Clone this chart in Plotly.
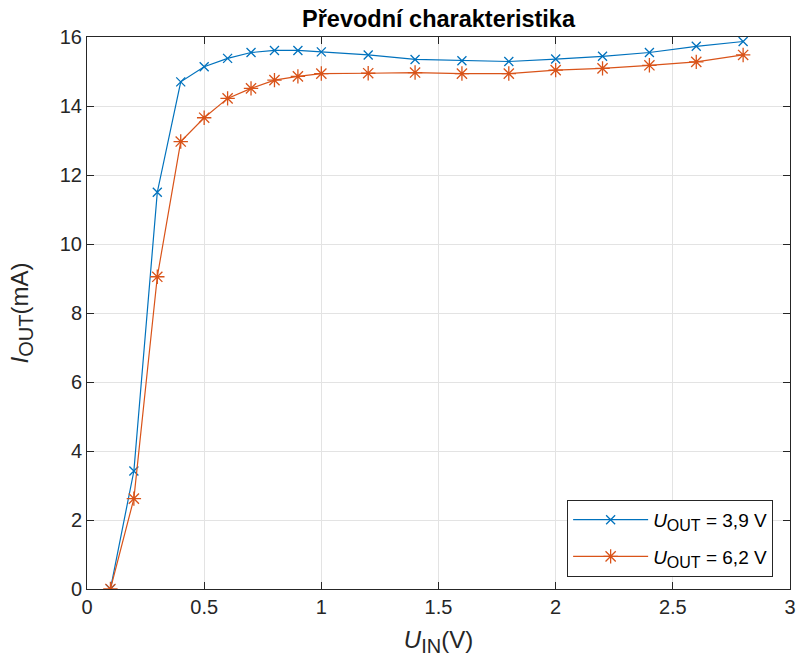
import plotly.graph_objects as go

u_in = [0.1, 0.2, 0.3, 0.4, 0.5, 0.6, 0.7, 0.8, 0.9, 1.0, 1.2, 1.4, 1.6, 1.8, 2.0, 2.2, 2.4, 2.6, 2.8]
i_out_39 = [0.0, 3.42, 11.5, 14.7, 15.14, 15.38, 15.55, 15.61, 15.61, 15.57, 15.48, 15.35, 15.31, 15.29, 15.36, 15.44, 15.55, 15.73, 15.87]
i_out_62 = [0.0, 2.62, 9.05, 12.97, 13.66, 14.22, 14.51, 14.75, 14.86, 14.94, 14.95, 14.97, 14.94, 14.94, 15.04, 15.09, 15.18, 15.28, 15.48]

blue = "#0072BD"
orange = "#D95319"
font = "Liberation Sans, Arial, sans-serif"

fig = go.Figure()
fig.add_trace(go.Scatter(
    x=u_in, y=i_out_39, mode="lines+markers",
    name="<i>U</i><sub><span style='font-size:16px'>OUT</span></sub> = 3,9 V",
    legendgroup="a",
    line=dict(color=blue, width=1.2),
    marker=dict(symbol="x-thin-open", size=9, color=blue, line=dict(color=blue, width=1.3)),
))
fig.add_trace(go.Scatter(
    x=u_in, y=i_out_62, mode="lines+markers",
    name="<i>U</i><sub><span style='font-size:16px'>OUT</span></sub> = 6,2 V",
    legendgroup="b",
    line=dict(color=orange, width=1.2),
    marker=dict(symbol="asterisk-open", size=12, color=orange, line=dict(color=orange, width=1.3)),
))

axis_common = dict(
    showgrid=True, gridcolor="#e3e3e3", gridwidth=1,
    showline=True, linecolor="#262626", linewidth=1,
    mirror="ticks", ticks="inside", ticklen=7, tickcolor="#262626",
    tickfont=dict(family=font, size=20, color="#262626"),
    zeroline=False, automargin=False,
)

fig.update_layout(
    width=800, height=666,
    margin=dict(l=87, r=10, t=37, b=77),
    paper_bgcolor="white", plot_bgcolor="white",
    title=dict(text="<b>Převodní charakteristika</b>", x=0.5, xref="paper", xanchor="center",
               y=1 - 19 / 666, yref="container", yanchor="middle",
               font=dict(family=font, size=23.5, color="black")),
    xaxis=dict(range=[0, 3], dtick=0.5,
               title=dict(text="<i>U</i><sub><span style='font-size:20px'>IN</span></sub>(V)",
                          font=dict(family=font, size=24, color="#262626"), standoff=14),
               **axis_common),
    yaxis=dict(range=[0, 16], dtick=2,
               title=dict(text="<i>I</i><sub><span style='font-size:20px'>OUT</span></sub>(mA)",
                          font=dict(family=font, size=24, color="#262626"), standoff=24),
               **axis_common),
    legend=dict(x=0.976, y=0.022, xanchor="right", yanchor="bottom",
                bgcolor="white", bordercolor="#262626", borderwidth=1,
                font=dict(family=font, size=19, color="black"),
                itemwidth=75, tracegroupgap=9),
    showlegend=True,
)

fig.write_html("out.html", config={"displayModeBar": False},
               post_script="document.body.style.margin='0px';")
